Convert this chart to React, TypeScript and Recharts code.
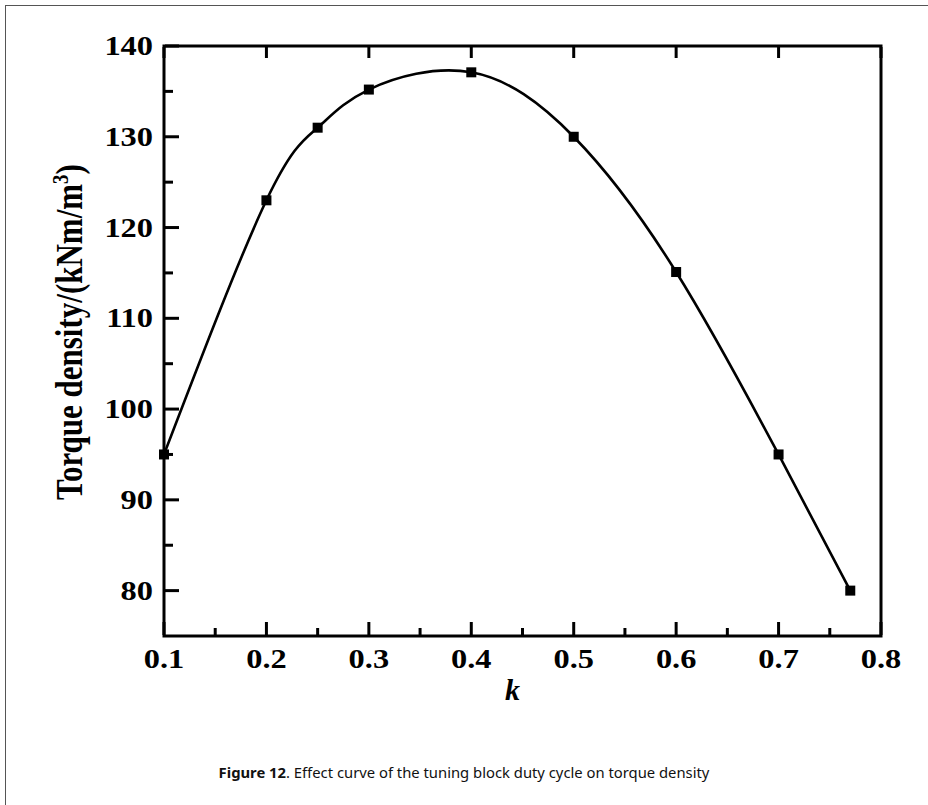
import React from "react";
import { LineChart, Line, XAxis, YAxis, Label } from "recharts";

// duty cycle k and the torque density
const kValues = [0.1, 0.2, 0.25, 0.3, 0.4, 0.5, 0.6, 0.7, 0.77];
const torqueValues = [95, 123, 131, 135.2, 137.1, 130, 115.1, 95, 80];

const xMajorTicks = [0.1, 0.2, 0.3, 0.4, 0.5, 0.6, 0.7, 0.8];
const xMinorTicks = [0.15, 0.25, 0.35, 0.45, 0.55, 0.65, 0.75];
const yMajorTicks = [80, 90, 100, 110, 120, 130, 140];
const yMinorTicks = [85, 95, 105, 115, 125, 135];

const data = kValues.map((k, i) => ({ k, torque: torqueValues[i] }));

const SERIF = "'Liberation Serif', 'Times New Roman', serif";
const STRETCH = 1.2;

const tickText = {
  fontFamily: SERIF,
  fontWeight: 700,
  fontSize: 27,
  fill: "#000",
};

// axes have 1px of room; ticks point inwards and labels sit outside
const BottomTick = (props: any) => {
  const { x, y, payload } = props;
  const base = y - 1;
  const major = xMajorTicks.includes(payload.value);
  return (
    <g>
      <line x1={x} y1={base} x2={x} y2={base - (major ? 13 : 7)} stroke="#000" strokeWidth={3} />
      {major && (
        <text transform={`translate(${x},${base + 33}) scale(${STRETCH},1)`} textAnchor="middle" {...tickText}>
          {payload.value.toFixed(1)}
        </text>
      )}
    </g>
  );
};

const TopTick = (props: any) => {
  const { x, y } = props;
  const base = y + 1;
  return <line x1={x} y1={base} x2={x} y2={base + 11} stroke="#000" strokeWidth={3} />;
};

const LeftTick = (props: any) => {
  const { x, y, payload } = props;
  const base = x + 1;
  const major = yMajorTicks.includes(payload.value);
  return (
    <g>
      <line x1={base} y1={y} x2={base + (major ? 14 : 8)} y2={y} stroke="#000" strokeWidth={3} />
      {major && (
        <text transform={`translate(${base - 12},${y + 9}) scale(${STRETCH},1)`} textAnchor="end" {...tickText}>
          {payload.value}
        </text>
      )}
    </g>
  );
};

const RightTick = (props: any) => {
  const { x, y } = props;
  const base = x - 1;
  return <line x1={base} y1={y} x2={base - 15} y2={y} stroke="#000" strokeWidth={3} />;
};

const SquareDot = (props: any) => {
  const { cx, cy } = props;
  if (cx == null || cy == null) return null;
  return <rect x={cx - 5} y={cy - 5} width={10} height={10} fill="#000" />;
};

const YTitle = (props: any) => {
  const vb = props.viewBox || { x: 163, y: 46, width: 1, height: 590 };
  const cx = vb.x + vb.width - 82;
  const cy = vb.y + vb.height / 2 - 9;
  return (
    <text
      transform={`translate(${cx},${cy}) scale(${STRETCH},1) rotate(-90)`}
      textAnchor="middle"
      fontFamily={SERIF}
      fontWeight={700}
      fontSize={31}
      fill="#000"
    >
      <tspan>Torque density/(kNm/m</tspan>
      <tspan dy={-12} fontSize={19}>3</tspan>
      <tspan dy={12}>)</tspan>
    </text>
  );
};

const XTitle = (props: any) => {
  const vb = props.viewBox || { x: 164, y: 636, width: 717, height: 1 };
  return (
    <text
      x={vb.x + vb.width / 2 - 10}
      y={vb.y + 64}
      textAnchor="middle"
      fontFamily={SERIF}
      fontWeight={700}
      fontStyle="italic"
      fontSize={30}
      fill="#000"
    >
      k
    </text>
  );
};

export default function App() {
  return (
    <div
      style={{
        position: "absolute",
        left: 0,
        top: 0,
        width: 928,
        height: 805,
        background: "#fff",
        overflow: "hidden",
      }}
    >
      <div
        style={{
          position: "absolute",
          left: 5,
          top: 5,
          width: 930,
          height: 810,
          borderTop: "1px solid #555",
          borderLeft: "1px solid #555",
        }}
      />
      <LineChart
        width={928}
        height={805}
        data={data}
        margin={{ top: 45, right: 46, bottom: 168, left: 163 }}
        style={{ position: "absolute", left: 0, top: 0 }}
      >
        <XAxis
          dataKey="k"
          type="number"
          domain={[0.1, 0.8]}
          ticks={[...xMajorTicks, ...xMinorTicks].sort((a, b) => a - b)}
          interval={0}
          height={1}
          tickSize={0}
          tickMargin={0}
          tickLine={false}
          tick={<BottomTick />}
          axisLine={false}
        >
          <Label content={XTitle} />
        </XAxis>
        <XAxis
          xAxisId="top"
          orientation="top"
          dataKey="k"
          type="number"
          domain={[0.1, 0.8]}
          ticks={xMajorTicks}
          interval={0}
          height={1}
          tickSize={0}
          tickMargin={0}
          tickLine={false}
          tick={<TopTick />}
          axisLine={false}
        />
        <YAxis
          type="number"
          domain={[75, 140]}
          ticks={[...yMajorTicks, ...yMinorTicks].sort((a, b) => a - b)}
          interval={0}
          width={1}
          tickSize={0}
          tickMargin={0}
          tickLine={false}
          tick={<LeftTick />}
          axisLine={false}
        >
          <Label content={YTitle} />
        </YAxis>
        <YAxis
          yAxisId="right"
          orientation="right"
          type="number"
          domain={[75, 140]}
          ticks={yMajorTicks}
          interval={0}
          width={1}
          tickSize={0}
          tickMargin={0}
          tickLine={false}
          tick={<RightTick />}
          axisLine={false}
        />
        <Line
          type="natural"
          dataKey="torque"
          stroke="#000"
          strokeWidth={2.6}
          dot={<SquareDot />}
          activeDot={false}
          isAnimationActive={false}
        />
        {/* frame around the plot area */}
        <rect x={164} y={46} width={717} height={590} fill="none" stroke="#000" strokeWidth={3} />
      </LineChart>
      <div
        style={{
          position: "absolute",
          left: 0,
          width: 928,
          top: 762,
          textAlign: "center",
          fontFamily: "'Noto Sans', 'Open Sans', sans-serif",
          fontSize: 14.8,
          color: "#111",
        }}
      >
        <b>Figure 12</b>. Effect curve of the tuning block duty cycle on torque density
      </div>
    </div>
  );
}
